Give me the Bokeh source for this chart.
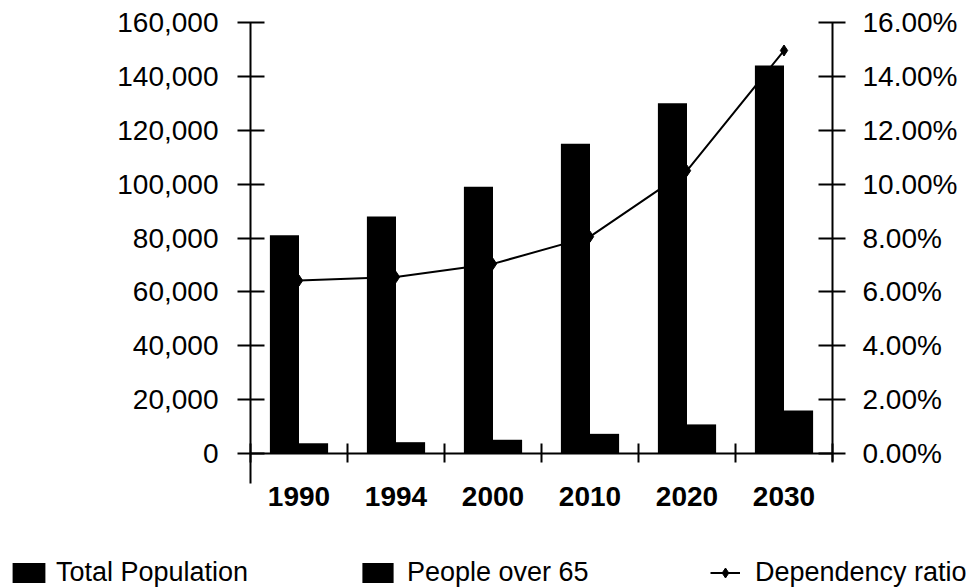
from bokeh.plotting import figure
from bokeh.models import (Range1d, LinearAxis, FixedTicker, NumeralTickFormatter,
                          PrintfTickFormatter, Legend, LegendItem, ColumnDataSource)
from bokeh.transform import dodge
from bokeh.embed import file_html
from bokeh.resources import INLINE

# ---- data ----
years = ["1990", "1994", "2000", "2010", "2020", "2030"]
total_population = [81000, 88000, 99000, 115000, 130000, 144000]
people_over_65 = [3800, 4200, 5100, 7300, 10800, 16000]
dependency_ratio = [6.42, 6.55, 7.04, 8.05, 10.5, 14.96]   # percent
pop_ticks = [0, 20000, 40000, 60000, 80000, 100000, 120000, 140000, 160000]
pct_ticks = [0, 2, 4, 6, 8, 10, 12, 14, 16]
series_labels = ["Total Population", "People over 65", "Dependency ratio"]

FONT = "Liberation Sans"

# ---- layout (pixels in the 979x588 page) ----
W, H = 979, 588
PX_LEFT, PX_RIGHT = 250, 832      # category axis extent
PX_ZERO, PX_TOP = 453, 22         # value 0 and top tick

n = len(years)
pop_top = pop_ticks[-1]
pct_top = pct_ticks[-1]
ux = n / (PX_RIGHT - PX_LEFT)
uy = pop_top / (PX_ZERO - PX_TOP)
x_rng = Range1d(-PX_LEFT * ux, n + (W - PX_RIGHT) * ux)
y_rng = Range1d(-(H - PX_ZERO) * uy, pop_top + PX_TOP * uy)
k = pct_top / pop_top
pct_rng = Range1d(y_rng.start * k, y_rng.end * k)

src = ColumnDataSource(dict(
    x=[i + 0.5 for i in range(n)],
    year=years,
    total=total_population,
    over65=people_over_65,
    ratio=dependency_ratio,
))

p = figure(width=W, height=H, output_backend="svg", toolbar_location=None,
           x_range=x_rng, y_range=y_rng,
           min_border=0, min_border_left=0, min_border_right=0,
           min_border_top=0, min_border_bottom=0)
p.extra_y_ranges = {"pct": pct_rng}
p.xgrid.visible = False
p.ygrid.visible = False
p.outline_line_color = None
p.background_fill_color = "white"
p.border_fill_color = "white"

r_total = p.vbar(x=dodge("x", -0.15, range=p.x_range), top="total", width=0.3,
                 source=src, fill_color="black", line_color=None)
r_over = p.vbar(x=dodge("x", 0.15, range=p.x_range), top="over65", width=0.3,
                source=src, fill_color="black", line_color=None)
r_line = p.line(x="x", y="ratio", source=src, y_range_name="pct",
                line_color="black", line_width=2)
r_pts = p.scatter(x="x", y="ratio", source=src, y_range_name="pct",
                  marker="diamond", size=11, fill_color="black", line_color="black")

# left axis (drawn at x = 0)
ya = p.yaxis[0]
ya.fixed_location = 0
ya.bounds = (-11000, pop_top)
ya.ticker = FixedTicker(ticks=pop_ticks)
ya.formatter = NumeralTickFormatter(format="0,0")
ya.major_tick_in = 14
ya.major_tick_out = 13
ya.minor_tick_line_color = None
ya.axis_line_width = 2
ya.major_tick_line_width = 2
ya.axis_line_color = "black"
ya.major_tick_line_color = "black"
ya.major_label_text_font = FONT
ya.major_label_text_font_size = "28px"
ya.major_label_text_color = "black"
ya.major_label_standoff = 19

# right axis (drawn at the last category edge)
ra = LinearAxis(y_range_name="pct", ticker=FixedTicker(ticks=pct_ticks),
                formatter=PrintfTickFormatter(format="%.2f%%"))
ra.fixed_location = n
ra.bounds = (-0.3, pct_top)
ra.major_tick_in = 14
ra.major_tick_out = 13
ra.minor_tick_line_color = None
ra.axis_line_width = 2
ra.major_tick_line_width = 2
ra.major_label_text_font = FONT
ra.major_label_text_font_size = "28px"
ra.major_label_text_color = "black"
ra.major_label_standoff = 17
p.add_layout(ra, "right")

# bottom axis at value 0: labels at category centres, tick marks at boundaries
xa = p.xaxis[0]
xa.fixed_location = 0
xa.bounds = (0, n)
xa.ticker = FixedTicker(ticks=[i + 0.5 for i in range(n)],
                        minor_ticks=[i for i in range(n + 1)])
xa.major_label_overrides = {i + 0.5: y for i, y in enumerate(years)}
xa.major_tick_line_color = None
xa.major_tick_in = 0
xa.major_tick_out = 0
xa.minor_tick_in = 10
xa.minor_tick_out = 9
xa.minor_tick_line_width = 2
xa.minor_tick_line_color = "black"
xa.axis_line_width = 2
xa.major_label_text_font = FONT
xa.major_label_text_font_style = "bold"
xa.major_label_text_font_size = "28px"
xa.major_label_text_color = "black"
xa.major_label_standoff = 24


def make_legend(label, renderers, loc, gw, gh, standoff):
    lg = Legend(items=[LegendItem(label=label, renderers=renderers)],
                location=loc, orientation="horizontal",
                glyph_width=gw, glyph_height=gh, label_standoff=standoff,
                padding=0, margin=0, spacing=0,
                border_line_color=None, background_fill_alpha=0,
                label_text_font=FONT, label_text_font_size="27px",
                label_text_color="black")
    p.add_layout(lg, "center")


make_legend(series_labels[0], [r_total], (8, 0), 41, 25, 7)
make_legend(series_labels[1], [r_over], (358, 0), 39, 25, 10)
make_legend(series_labels[2], [r_line, r_pts], (710, 0), 30, 25, 15)

open("out.html", "w").write(file_html(p, INLINE))
